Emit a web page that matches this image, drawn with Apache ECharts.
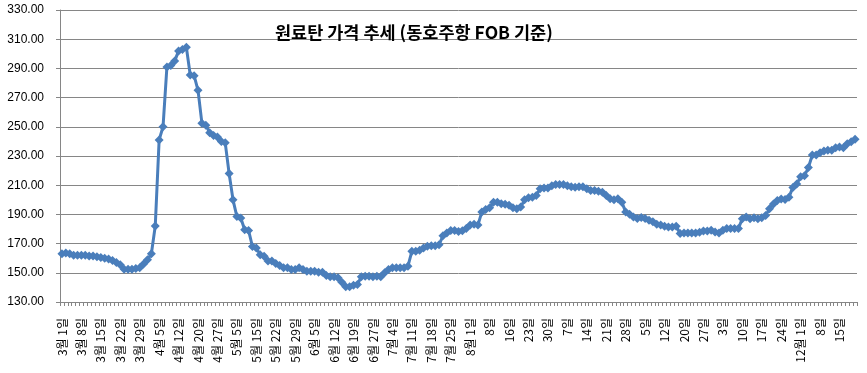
<!DOCTYPE html>
<html><head><meta charset="utf-8">
<script src="https://cdn.jsdelivr.net/npm/echarts@6/dist/echarts.min.js"></script>
<style>html,body{margin:0;padding:0;background:#fff}#c{width:867px;height:373px}</style>
</head><body><div id="c"></div>
<script>
const titleText = "원료탄 가격 추세 (동호주항 FOB 기준)";
const dates = [
"3/1","3/2","3/3","3/6","3/7","3/8","3/9","3/10","3/13","3/14","3/15","3/16","3/17","3/20","3/21","3/22","3/23","3/24","3/27","3/28","3/29","3/30","3/31",
"4/3","4/4","4/5","4/6","4/7","4/10","4/11","4/12","4/13","4/17","4/18","4/19","4/20","4/21","4/24","4/25","4/26","4/27","4/28",
"5/1","5/2","5/4","5/5","5/8","5/10","5/11","5/12","5/15","5/16","5/17","5/18","5/19","5/22","5/23","5/24","5/25","5/26","5/29","5/30","5/31",
"6/1","6/2","6/5","6/6","6/7","6/8","6/9","6/12","6/13","6/14","6/15","6/16","6/19","6/20","6/21","6/22","6/23","6/27","6/28","6/29","6/30",
"7/3","7/4","7/5","7/6","7/7","7/10","7/11","7/12","7/13","7/14","7/17","7/18","7/19","7/20","7/21","7/24","7/25","7/26","7/27","7/28","7/31",
"8/1","8/2","8/3","8/4","8/7","8/8","8/9","8/10","8/11","8/14","8/16","8/17","8/18","8/21","8/22","8/23","8/24","8/25","8/28","8/29","8/30","8/31",
"9/1","9/5","9/6","9/7","9/8","9/11","9/12","9/13","9/14","9/15","9/18","9/19","9/20","9/21","9/22","9/25","9/26","9/27","9/28","9/29",
"10/2","10/3","10/4","10/5","10/6","10/9","10/10","10/11","10/12","10/13","10/16","10/17","10/18","10/20","10/23","10/24","10/25","10/26","10/27","10/30","10/31",
"11/1","11/2","11/3","11/6","11/7","11/8","11/9","11/10","11/13","11/14","11/15","11/16","11/17","11/20","11/21","11/22","11/23","11/24","11/27","11/28","11/29","11/30",
"12/1","12/4","12/5","12/6","12/7","12/8","12/11","12/12","12/13","12/14","12/15","12/18","12/19","12/20","12/21"
];
const prices = [
163,163.5,163,162,162,162,162,161.5,161.5,161,160.5,160,159.5,158.5,157,155.5,152.5,152.5,152.5,153,
153.5,156,159,163,182,241,250,291,292,295,302,303,304.5,285.5,285,275,252.5,251,246,244,
243,240,239,218,200,188.5,187.5,179.5,179,168,167,162.4,161.3,158,158,156.3,155,153.4,153.4,152.2,
152.2,153.4,152.2,151,151,151,150.4,150.4,148.2,147.3,147.3,146.6,143.6,140.5,140.5,141.4,142,147.3,147.7,147.7,
147.3,147.7,147.3,150,152.2,153.4,153.4,153.4,153.4,154.5,164.7,164.7,165.4,167,168.1,168.6,168.6,169.2,175.3,177.2,
179,179,178.3,178.8,180.4,182.7,183.3,182.7,191.7,193.3,194.6,198.4,198.4,197.3,196.9,196.2,194.6,193.9,195,200,
201.4,201.8,203,207.5,208.1,208.1,209.7,210.4,210.4,210.4,209.7,209,208.6,209,209,207.5,206.3,206.3,205.9,205.2,
203,200.7,200,200.7,198.4,191.7,190.1,188.3,187.2,187.8,187.2,186,184.9,183.3,182.7,181.9,181.4,181.4,181.9,176.9,
177.3,177.3,177.3,177.3,177.8,178.7,178.7,179.1,178,177.3,179.1,180.3,180.3,180.3,180.3,187.1,188.2,187.1,187.7,187.1,
187.7,189.3,193.8,197.2,199.5,200.6,200.2,201.8,208.5,210.8,215.8,216.5,222.1,230.7,230.7,232.3,233.4,233.9,233.9,235.7,
236.1,235.7,238.4,239.8,241.4
];
const tickLabels = ["3월 1일","3월 8일","3월 15일","3월 22일","3월 29일","4월 5일","4월 12일","4월 20일","4월 27일","5월 5일","5월 15일","5월 22일","5월 29일","6월 5일","6월 12일","6월 19일","6월 27일","7월 4일","7월 11일","7월 18일","7월 25일","8월 1일","8일","16일","23일","30일","7일","14일","21일","28일","5일","12일","20일","27일","3일","10일","17일","24일","12월 1일","8일","15일"];
const labelStep = 5;
const yMin = 130, yMax = 330, yStep = 20;

const chart = echarts.init(document.getElementById('c'), null, {renderer:'canvas'});
const gridColor = '#868686';
chart.setOption({
  animation: false,
  backgroundColor: '#fff',
  title: {
    text: titleText, left: 270, top: 19,
    textStyle: {fontFamily: '"Noto Sans CJK KR"', fontSize: 17.5, fontWeight: 'bold', color: '#000'}
  },
  grid: {left: 60, right: 10, top: 10, bottom: 71, containLabel: false},
  xAxis: {
    type: 'category', data: dates, boundaryGap: true,
    axisLine: {lineStyle: {color: gridColor, width: 1}},
    axisTick: {show: true, interval: 0, length: 4, lineStyle: {color: gridColor}},
    axisLabel: {
      interval: labelStep - 1, rotate: 90, margin: 16,
      fontFamily: '"Noto Sans CJK KR"', fontSize: 12, color: '#000',
      formatter: (v, i) => tickLabels[Math.round(i / labelStep)] || ''
    },
    splitLine: {show: false}
  },
  yAxis: {
    type: 'value', min: yMin, max: yMax, interval: yStep,
    axisLine: {show: true, lineStyle: {color: gridColor, width: 1}},
    axisTick: {show: true, length: 4, lineStyle: {color: gridColor}},
    axisLabel: {margin: 16, fontFamily: '"Liberation Sans", Arial', fontSize: 12, color: '#000',
      formatter: v => v.toFixed(2)},
    splitLine: {show: true, lineStyle: {color: gridColor, width: 1}}
  },
  series: [{
    type: 'line', data: prices, showAllSymbol: true,
    symbol: 'diamond', symbolSize: 9,
    itemStyle: {color: '#4A7EBB'},
    lineStyle: {color: '#4A7EBB', width: 3}
  }]
});
</script></body></html>
